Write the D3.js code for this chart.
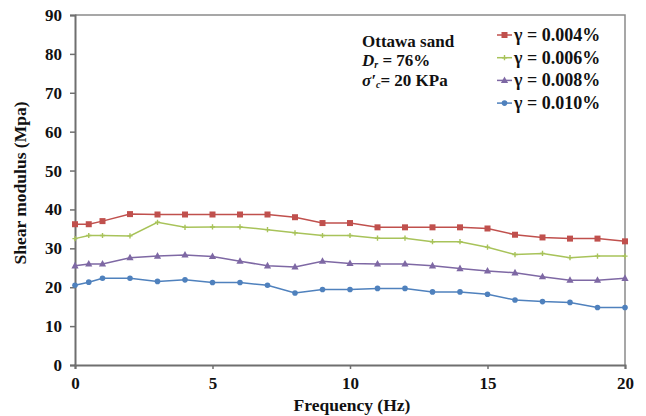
<!DOCTYPE html>
<html>
<head>
<meta charset="utf-8">
<script src="https://cdn.jsdelivr.net/npm/d3@7"></script>
<style>
  html, body { margin: 0; padding: 0; background: #fff; }
  svg { display: block; }
  text { font-family: "Liberation Serif", "Times New Roman", serif; font-weight: bold; fill: #111; }
</style>
</head>
<body>
<svg id="chart" width="646" height="416"></svg>
<script>
// Frequency sweep (Hz)
const freq = [0, 0.5, 1, 2, 3, 4, 5, 6, 7, 8, 9, 10, 11, 12, 13, 14, 15, 16, 17, 18, 19, 20];

// Shear modulus (MPa) for each shear strain level
const g004 = [36.2, 36.2, 37.0, 38.8, 38.7, 38.7, 38.7, 38.7, 38.7, 38.0, 36.5, 36.5, 35.4, 35.4, 35.4, 35.4, 35.1, 33.5, 32.8, 32.5, 32.5, 31.8];
const g006 = [32.5, 33.3, 33.3, 33.2, 36.7, 35.4, 35.5, 35.5, 34.8, 34.0, 33.3, 33.3, 32.6, 32.6, 31.7, 31.7, 30.3, 28.4, 28.7, 27.6, 28.0, 28.0];
const g008 = [25.5, 26.0, 26.0, 27.6, 28.0, 28.3, 27.9, 26.7, 25.5, 25.2, 26.7, 26.1, 26.0, 26.0, 25.5, 24.8, 24.2, 23.7, 22.7, 21.8, 21.8, 22.3];
const g010 = [20.5, 21.3, 22.3, 22.3, 21.5, 21.9, 21.2, 21.2, 20.5, 18.5, 19.4, 19.4, 19.7, 19.7, 18.8, 18.8, 18.2, 16.7, 16.3, 16.1, 14.8, 14.8];

const seriesNames = ["γ = 0.004%", "γ = 0.006%", "γ = 0.008%", "γ = 0.010%"];
const seriesValues = [g004, g006, g008, g010];
const seriesColors = ["#C0504D", "#A8C35A", "#7E68A4", "#4F81BD"];
const seriesMarkers = ["square", "plus", "triangle", "circle"];

const xTicks = [0, 5, 10, 15, 20];
const yTicks = [0, 10, 20, 30, 40, 50, 60, 70, 80, 90];

const svg = d3.select("#chart");
const x = d3.scaleLinear().domain([0, 20]).range([75, 625]);
const y = d3.scaleLinear().domain([0, 90]).range([365, 15]);

// plot frame (top and right)
svg.append("path")
  .attr("d", `M${x(0)},${y(90)}H${x(20)}V${y(0)}`)
  .attr("fill", "none").attr("stroke", "#8a8a8a").attr("stroke-width", 1.5);

// axes
const yAxis = svg.append("g").attr("transform", `translate(${x(0)},0)`)
  .call(d3.axisLeft(y).tickValues(yTicks).tickSize(5).tickPadding(8));
const xAxis = svg.append("g").attr("transform", `translate(0,${y(0)})`)
  .call(d3.axisBottom(x).tickValues(xTicks).tickSize(4).tickPadding(8));
[xAxis, yAxis].forEach(g => {
  g.select(".domain").attr("stroke", "#6f6f6f").attr("stroke-width", 2);
  g.selectAll(".tick line").attr("stroke", "#6f6f6f").attr("stroke-width", 1.5);
  g.selectAll(".tick text")
    .attr("font-family", "Liberation Serif, Times New Roman, serif")
    .attr("font-weight", "bold").attr("font-size", 17).attr("fill", "#111");
});

// axis titles
svg.append("text")
  .attr("x", (x(0) + x(20)) / 2 + 2).attr("y", 411)
  .attr("text-anchor", "middle").attr("font-size", 17.5)
  .text("Frequency (Hz)");
svg.append("text")
  .attr("transform", `translate(26,${(y(0) + y(90)) / 2 - 7}) rotate(-90)`)
  .attr("text-anchor", "middle").attr("font-size", 17.5)
  .text("Shear modulus (Mpa)");

// marker drawing
function drawMarker(g, type, color) {
  if (type === "square") {
    g.append("rect").attr("x", -3).attr("y", -3).attr("width", 6).attr("height", 6)
      .attr("fill", color);
  } else if (type === "triangle") {
    g.append("path").attr("d", "M0,-4L3.6,2.6L-3.6,2.6Z").attr("fill", color);
  } else if (type === "plus") {
    g.append("path").attr("d", "M-2.6,0H2.6M0,-2.6V2.6").attr("stroke", color).attr("stroke-width", 1.4);
  } else {
    g.append("circle").attr("r", 2.8).attr("fill", color);
  }
}

const line = d3.line().x((d, i) => x(freq[i])).y(d => y(d));

seriesValues.forEach((vals, s) => {
  const col = seriesColors[s];
  svg.append("path").datum(vals)
    .attr("d", line)
    .attr("fill", "none").attr("stroke", col).attr("stroke-width", 1.5);
  vals.forEach((v, i) => {
    const g = svg.append("g").attr("transform", `translate(${x(freq[i])},${y(v)})`);
    drawMarker(g, seriesMarkers[s], col);
  });
});

// legend
const legend = svg.append("g");
seriesNames.forEach((name, s) => {
  const cy = 35 + s * 22.7;
  legend.append("line").attr("x1", 497).attr("x2", 512).attr("y1", cy).attr("y2", cy)
    .attr("stroke", seriesColors[s]).attr("stroke-width", 1.5);
  const g = legend.append("g").attr("transform", `translate(504.5,${cy})`);
  drawMarker(g, seriesMarkers[s], seriesColors[s]);
  legend.append("text").attr("x", 514).attr("y", cy + 6).attr("font-size", 18).text(name);
});

// sample annotation
const note = svg.append("g").attr("font-size", 17);
note.append("text").attr("x", 362).attr("y", 46.5).text("Ottawa sand");
const t2 = note.append("text").attr("x", 362).attr("y", 66);
t2.append("tspan").attr("font-style", "italic").text("D");
t2.append("tspan").attr("font-style", "italic").attr("font-size", 10).attr("dy", 2).text("r");
t2.append("tspan").attr("dy", -2).text(" = 76%");
const t3 = note.append("text").attr("x", 362).attr("y", 86);
t3.append("tspan").attr("font-style", "italic").text("σ′");
t3.append("tspan").attr("font-style", "italic").attr("font-size", 10).attr("dy", 2).text("c");
t3.append("tspan").attr("dy", -2).text("= 20 KPa");
</script>
</body>
</html>
